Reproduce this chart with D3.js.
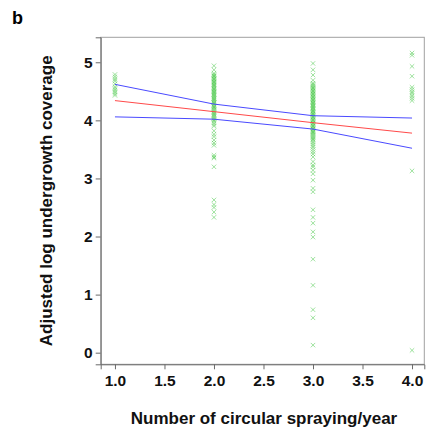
<!DOCTYPE html>
<html>
<head>
<meta charset="utf-8">
<script src="https://cdn.jsdelivr.net/npm/d3@7"></script>
<style>
  body { margin: 0; background: #fff; }
  svg { display: block; font-family: Arial, "Liberation Sans", sans-serif; }
</style>
</head>
<body>
<svg id="chart"></svg>
<script>
const sprayings = [1, 2, 3, 4]

// observed adjusted log coverage per spraying group
const spray1 = [4.79, 4.75, 4.71, 4.68, 4.63, 4.58, 4.55, 4.52, 4.49, 4.46, 4.43]
const spray2 = [4.94, 4.87, 4.81, 4.79, 4.77, 4.76, 4.74, 4.72, 4.71, 4.69, 4.67, 4.66,
  4.64, 4.62, 4.61, 4.59, 4.57, 4.55, 4.54, 4.52, 4.50, 4.49, 4.47, 4.45, 4.44, 4.42,
  4.40, 4.38, 4.37, 4.35, 4.33, 4.31, 4.30, 4.28, 4.26, 4.24, 4.23, 4.21, 4.19, 4.17,
  4.15, 4.13, 4.11, 4.09, 4.07, 4.05, 4.03, 4.01, 3.99, 3.96, 3.93, 3.90, 3.82, 3.76,
  3.72, 3.66, 3.61, 3.57, 3.40, 3.37, 3.35, 3.20, 2.63, 2.55, 2.50, 2.42, 2.33]
const spray3 = [4.98, 4.87, 4.78, 4.69, 4.64, 4.62, 4.60, 4.58, 4.56, 4.55, 4.53, 4.51,
  4.50, 4.48, 4.46, 4.45, 4.43, 4.41, 4.40, 4.38, 4.36, 4.35, 4.33, 4.31, 4.30, 4.28,
  4.26, 4.25, 4.23, 4.21, 4.20, 4.18, 4.16, 4.15, 4.13, 4.11, 4.10, 4.08, 4.06, 4.05,
  4.03, 4.01, 4.00, 3.98, 3.96, 3.95, 3.93, 3.91, 3.90, 3.88, 3.86, 3.85, 3.83, 3.81,
  3.80, 3.78, 3.76, 3.74, 3.72, 3.70, 3.68, 3.66, 3.63, 3.60, 3.57, 3.54, 3.50, 3.46,
  3.42, 3.37, 3.29, 3.23, 3.20, 3.14, 3.08, 2.97, 2.83, 2.77, 2.46, 2.33, 2.23, 2.08,
  1.99, 1.61, 1.16, 0.74, 0.60, 0.13]
const spray4 = [5.16, 5.12, 4.93, 4.76, 4.57, 4.53, 4.49, 4.46, 4.42, 4.38, 4.34, 3.13, 0.04]

// fitted line and 95% band
const fitMean = [4.34, 4.15, 3.96, 3.78]
const ciUpper = [4.62, 4.28, 4.08, 4.04]
const ciLower = [4.06, 4.02, 3.85, 3.52]

const xTicks = [1.0, 1.5, 2.0, 2.5, 3.0, 3.5, 4.0]
const yTicks = [0, 1, 2, 3, 4, 5]

const width = 427
const height = 435
const margin = { top: 37.3, right: 2.7, bottom: 70.7, left: 100.7 }
const plotW = width - margin.left - margin.right
const plotH = height - margin.top - margin.bottom

const svg = d3.select('#chart').attr('width', width).attr('height', height)

const x = d3.scaleLinear().domain([0.856, 4.124]).range([0, plotW])
const y = d3.scaleLinear().domain([-0.2, 5.43]).range([plotH, 0])

const g = svg.append('g').attr('transform', `translate(${margin.left},${margin.top})`)

// frame
g.append('rect')
  .attr('width', plotW)
  .attr('height', plotH)
  .attr('fill', 'none')
  .attr('stroke', '#a0a0a0')
  .attr('stroke-width', 1)

const yAxis = g.append('g')
  .call(d3.axisLeft(y).tickValues(yTicks).tickFormat(d3.format('d')).tickSize(5).tickPadding(3))
const xAxis = g.append('g')
  .attr('transform', `translate(0,${plotH})`)
  .call(d3.axisBottom(x).tickValues(xTicks).tickFormat(d3.format('.1f')).tickSize(5).tickPadding(6))

;[xAxis, yAxis].forEach((ax) => {
  ax.select('.domain').attr('stroke', '#6a6a6a')
  ax.selectAll('.tick line').attr('stroke', '#6a6a6a')
  ax.selectAll('.tick text')
    .attr('fill', '#111')
    .style('font-size', '15.5px')
    .style('font-weight', 'bold')
    .style('font-family', 'Arial, "Liberation Sans", sans-serif')
})

// points
const points = []
;[spray1, spray2, spray3, spray4].forEach((vals, i) => {
  vals.forEach((v) => points.push({ s: sprayings[i], v: v }))
})

const r = 2.2
const marks = g.append('g')
  .attr('stroke', '#3cc43c')
  .attr('stroke-width', 0.9)
  .attr('stroke-opacity', 0.55)
  .attr('fill', 'none')

marks.selectAll('path')
  .data(points)
  .enter()
  .append('path')
  .attr('d', (d) => {
    const cx = x(d.s)
    const cy = y(d.v)
    return `M${cx - r},${cy - r}L${cx + r},${cy + r}M${cx - r},${cy + r}L${cx + r},${cy - r}`
  })

// fit lines
const line = (vals) => d3.line()
  .x((d, i) => x(sprayings[i]))
  .y((d) => y(d))(vals)

g.append('path').attr('d', line(ciUpper)).attr('fill', 'none').attr('stroke', '#4a4aff').attr('stroke-width', 1)
g.append('path').attr('d', line(ciLower)).attr('fill', 'none').attr('stroke', '#4a4aff').attr('stroke-width', 1)
g.append('path').attr('d', line(fitMean)).attr('fill', 'none').attr('stroke', '#ff4a4a').attr('stroke-width', 1)

// titles
svg.append('text')
  .attr('x', 12)
  .attr('y', 24)
  .style('font-size', '18px')
  .style('font-weight', 'bold')
  .text('b')

svg.append('text')
  .attr('text-anchor', 'middle')
  .attr('transform', `translate(52, ${margin.top + plotH / 2}) rotate(-90)`)
  .style('font-size', '17px')
  .style('font-weight', 'bold')
  .attr('fill', '#111')
  .text('Adjusted log undergrowth coverage')

svg.append('text')
  .attr('text-anchor', 'middle')
  .attr('x', 264)
  .attr('y', 424)
  .style('font-size', '17px')
  .style('font-weight', 'bold')
  .attr('fill', '#111')
  .text('Number of circular spraying/year')
</script>
</body>
</html>
